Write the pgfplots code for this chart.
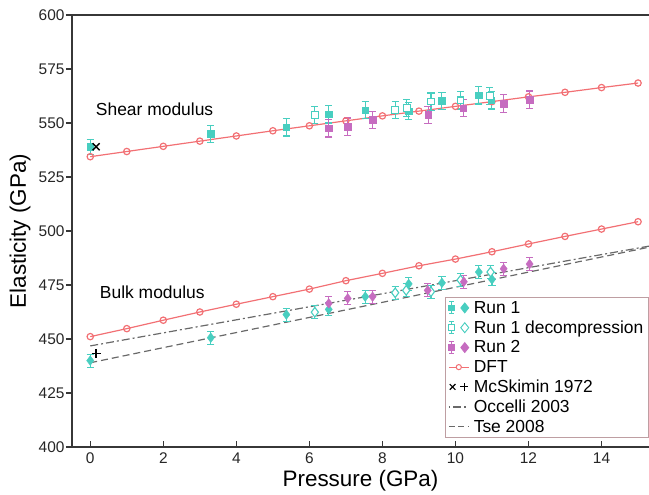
\documentclass[border=0pt]{standalone}
\usepackage{pgfplots}
\usepackage{pgfplotstable}
\pgfplotsset{compat=1.18}
\usepackage{fontspec}
\setmainfont{Liberation Sans}

\definecolor{runone}{RGB}{72,206,192}
\definecolor{runtwo}{RGB}{198,108,192}
\definecolor{dft}{RGB}{242,112,116}
\definecolor{litgray}{RGB}{105,105,105}
\definecolor{legframe}{RGB}{190,158,162}
\definecolor{axgray}{RGB}{55,55,55}

% shear modulus
\pgfplotstableread{
p e err
0.00 539.0 3.5
3.30 545.0 4
5.37 548.0 4
6.53 554.0 4
7.53 556.0 4
8.72 555.5 4
9.63 560.3 4
10.64 562.8 4
10.98 560.5 4
}\shearone
\pgfplotstableread{
p e err
6.15 553.7 4
8.35 556.0 4
8.67 557.0 4
9.33 559.9 4
10.14 560.5 4
10.94 562.5 4
}\sheardec
\pgfplotstableread{
p e err
6.53 547.5 4
7.05 548.3 4
7.73 551.4 4
9.25 553.8 4
10.21 556.8 4
11.32 559.0 4
12.03 560.8 4
}\sheartwo

% bulk modulus
\pgfplotstableread{
p e err
0.00 440.0 3
3.30 450.6 3
5.37 461.3 3
6.53 463.7 3
7.53 469.6 3
8.72 475.5 3
9.63 476.0 3
10.64 481.0 3
11.00 477.6 3
}\bulkone
\pgfplotstableread{
p e err
6.15 462.4 3
8.35 471.4 3
8.65 472.5 3
9.33 471.9 3
10.14 477.3 3
10.96 481.0 3
}\bulkdec
\pgfplotstableread{
p e err
6.53 466.5 3
7.05 468.8 3
7.73 469.6 3
9.24 472.5 3
10.23 476.5 3
11.32 482.5 3
12.03 484.7 3
}\bulktwo

% DFT
\pgfplotstableread{
p shear bulk
0 534.4 451.1
1 536.8 454.8
2 539.2 458.7
3 541.6 462.5
4 544.0 466.1
5 546.4 469.6
6 548.7 473.1
7 551.0 477.0
8 553.3 480.4
9 555.5 483.9
10 557.7 487.0
11 559.9 490.4
12 562.1 494.0
13 564.2 497.5
14 566.4 500.9
15 568.5 504.3
}\dft

\pgfplotsset{
  errstyle/.style={
    error bars/.cd, y dir=both, y explicit,
    error bar style={line width=1.1pt},
    error mark options={rotate=90, mark size=3.6pt, line width=1.1pt}
  }
}

\begin{document}
\begin{tikzpicture}
\begin{axis}[
  name=ax,
  scale only axis,
  width=577bp, height=432bp,
  xmin=-0.5, xmax=15.3,
  ymin=400, ymax=600,
  xtick={0,2,...,14},
  ytick={400,425,...,600},
  axis lines=left,
  axis line style={-, axgray, line width=1.3pt},
  tick align=inside,
  major tick length=6bp,
  tick style={axgray, line width=1.1pt},
  every y tick/.append style={xshift=-6bp},
  yticklabel style={xshift=-4bp},
  xticklabel style={yshift=-2bp},
  /pgf/number format/assume math mode=true,
  tick label style={font=\fontsize{15.5}{17}\selectfont, text=black!85},
  every axis x label/.style={at={(axis description cs:0.5,-0.077)}, anchor=center},
  every axis y label/.style={at={(axis description cs:-0.09,0.5)}, rotate=90, anchor=center},
  label style={font=\fontsize{22.5}{25}\selectfont},
  xlabel={Pressure (GPa)},
  ylabel={Elasticity (GPa)},
  legend cell align=left,
  legend style={at={(1,0.02)}, anchor=south east, draw=legframe, line width=1.3pt,
    fill=white, font=\fontsize{17.5}{19}\selectfont, inner xsep=3pt, inner ysep=2pt,
    row sep=2pt, column sep=2.5pt},
]
\draw[axgray, line width=1.3pt] (rel axis cs:0,1) -- (rel axis cs:1,1);

% literature lines
\addplot[forget plot, litgray, line width=1.2pt, dash pattern=on 8bp off 3bp on 2bp off 3bp]
  coordinates {(0,446.8) (15.3,493.0)};
\addplot[forget plot, litgray, line width=1.2pt, dash pattern=on 7bp off 4bp]
  coordinates {(0,439.0) (15.3,492.5)};

% DFT
\addplot[forget plot, dft, line width=1.2pt, mark=o, mark size=3.2pt,
  mark options={fill=white, line width=1.2pt}] table[x=p, y=shear] {\dft};
\addplot[forget plot, dft, line width=1.2pt, mark=o, mark size=3.2pt,
  mark options={fill=white, line width=1.2pt}] table[x=p, y=bulk] {\dft};

% shear
\addplot[forget plot, only marks, runone, mark=square*, mark size=3.3pt, errstyle]
  table[x=p, y=e, y error=err] {\shearone};
\addplot[forget plot, only marks, runone, mark=square*, mark size=3.3pt,
  mark options={fill=white, line width=1.1pt}, errstyle]
  table[x=p, y=e, y error=err] {\sheardec};
\addplot[forget plot, only marks, runtwo, mark=square*, mark size=3.3pt, errstyle]
  table[x=p, y=e, y error=err] {\sheartwo};

% bulk
\addplot[forget plot, only marks, runone, mark=diamond*, mark size=4.8pt, errstyle]
  table[x=p, y=e, y error=err] {\bulkone};
\addplot[forget plot, only marks, runone, mark=diamond*, mark size=4.8pt,
  mark options={fill=white, line width=1.1pt}, errstyle]
  table[x=p, y=e, y error=err] {\bulkdec};
\addplot[forget plot, only marks, runtwo, mark=diamond*, mark size=4.8pt, errstyle]
  table[x=p, y=e, y error=err] {\bulktwo};

% McSkimin 1972
\addplot[forget plot, only marks, black, mark=x, mark size=5pt, mark options={line width=1.4pt}]
  coordinates {(0.16,539)};
\addplot[forget plot, only marks, black, mark=+, mark size=4.5pt, mark options={line width=1.3pt}]
  coordinates {(0.16,443.4)};

\node[anchor=west, font=\fontsize{17.5}{20}\selectfont] at (axis cs:0.06,556.5) {Shear modulus};
\node[anchor=west, font=\fontsize{17.5}{20}\selectfont] at (axis cs:0.17,471.8) {Bulk modulus};

% legend
\addlegendimage{legend image code/.code={
  \draw[runone, line width=1pt] (2pt,-6pt) -- (2pt,6pt) (-0.5pt,-6pt) -- (4.5pt,-6pt) (-0.5pt,6pt) -- (4.5pt,6pt);
  \draw[runone, fill=runone, line width=0.8pt] (-1pt,-2.8pt) rectangle (5pt,2.8pt);
  \draw[runone, fill=runone, line width=0.8pt] (15pt,-5pt) -- (19pt,0pt) -- (15pt,5pt) -- (11pt,0pt) -- cycle;
}}
\addlegendentry{Run 1}
\addlegendimage{legend image code/.code={
  \draw[runone, line width=1pt] (2pt,-6pt) -- (2pt,6pt) (-0.5pt,-6pt) -- (4.5pt,-6pt) (-0.5pt,6pt) -- (4.5pt,6pt);
  \draw[runone, fill=white, line width=0.9pt] (-1pt,-2.8pt) rectangle (5pt,2.8pt);
  \draw[runone, fill=white, line width=0.9pt] (15pt,-5pt) -- (19pt,0pt) -- (15pt,5pt) -- (11pt,0pt) -- cycle;
}}
\addlegendentry{Run 1 decompression}
\addlegendimage{legend image code/.code={
  \draw[runtwo, line width=1pt] (2pt,-6pt) -- (2pt,6pt) (-0.5pt,-6pt) -- (4.5pt,-6pt) (-0.5pt,6pt) -- (4.5pt,6pt);
  \draw[runtwo, fill=runtwo, line width=0.8pt] (-1pt,-2.8pt) rectangle (5pt,2.8pt);
  \draw[runtwo, fill=runtwo, line width=0.8pt] (15pt,-5pt) -- (19pt,0pt) -- (15pt,5pt) -- (11pt,0pt) -- cycle;
}}
\addlegendentry{Run 2}
\addlegendimage{legend image code/.code={
  \draw[dft, line width=1pt] (-1pt,0pt) -- (19pt,0pt);
  \draw[dft, fill=white, line width=1pt] (9pt,0pt) circle (2.6pt);
}}
\addlegendentry{DFT}
\addlegendimage{legend image code/.code={
  \draw[black, line width=1.1pt] (0pt,-2.8pt) -- (5.6pt,2.8pt) (0pt,2.8pt) -- (5.6pt,-2.8pt);
  \draw[black, line width=1.1pt] (10.5pt,0pt) -- (18.5pt,0pt) (14.5pt,-4pt) -- (14.5pt,4pt);
}}
\addlegendentry{McSkimin 1972}
\addlegendimage{legend image code/.code={
  \draw[litgray, line width=1.1pt, dash pattern=on 1.5pt off 3pt on 8pt off 3pt] (-1pt,0pt) -- (19pt,0pt);
}}
\addlegendentry{Occelli 2003}
\addlegendimage{legend image code/.code={
  \draw[litgray, line width=1.1pt, dash pattern=on 6pt off 3.5pt] (-1pt,0pt) -- (19pt,0pt);
}}
\addlegendentry{Tse 2008}
\end{axis}
\pgfresetboundingbox
\path[use as bounding box] ([xshift=-72bp,yshift=-48bp]ax.south west) rectangle ([yshift=15bp]ax.north east);
\end{tikzpicture}
\end{document}
